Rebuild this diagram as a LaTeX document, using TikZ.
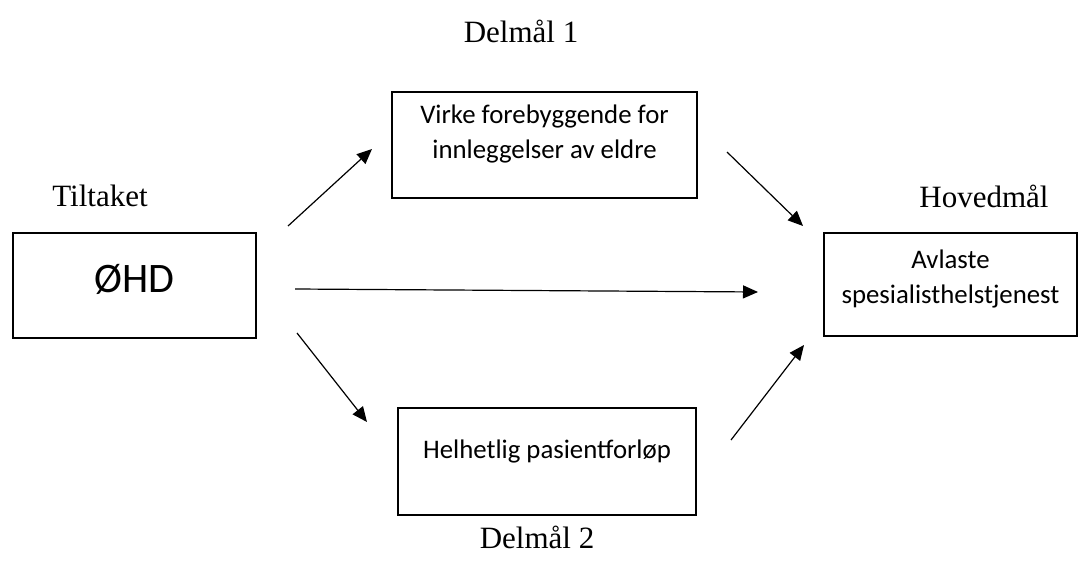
\documentclass[tikz,border=0pt]{standalone}
\usepackage{fontspec}
\setmainfont{Liberation Serif}
\newfontfamily\boxfont{Carlito}
\usetikzlibrary{arrows.meta, calc, positioning}

\begin{document}
\begin{tikzpicture}[x=0.5pt, y=-0.5pt,
    goal/.style={draw, line width=0.9pt, inner sep=0pt, align=center, font=\boxfont\fontsize{13.4}{17.5}\selectfont},
    caption/.style={font=\fontsize{15.5}{18}\selectfont},
    link/.style={line width=0.6pt, -{Triangle[length=7.5pt, width=6.5pt]}}]

    \useasboundingbox (0,0) rectangle (1080,561);

    % Tiltaket
    \node (ohd) [goal, minimum width=121.5pt, minimum height=52.5pt, text depth=7pt, font=\boxfont\fontsize{21}{24}\selectfont] at (134.5,285.5) {ØHD};
    \node (ohdlabel) [caption] at ($(ohd.north) + (-34.5,-36)$) {Tiltaket};

    % Delmål
    \node (sub1) [goal, minimum width=152.5pt, minimum height=53pt, text depth=13.3pt] at (544.5,145) {Virke forebyggende for\\innleggelser av eldre};
    \node (sub1label) [caption] at ($(sub1.north) + (-23.5,-60)$) {Delmål 1};

    \node (sub2) [goal, minimum width=149pt, minimum height=53.5pt, text depth=12.8pt] at (547,461.5) {Helhetlig pasientforløp};
    \node (sub2label) [caption] at ($(sub2.south) + (-10,22)$) {Delmål 2};

    % Hovedmål
    \node (main) [goal, minimum width=126.5pt, minimum height=51.5pt, text depth=7.8pt] at (950.5,284.5) {Avlaste\\spesialisthelstjenest};
    \node (mainlabel) [caption] at ($(main.north) + (33.5,-36)$) {Hovedmål};

    % Arrows
    \coordinate (ohd-sub1) at (288,226);
    \coordinate (sub1-in) at (372,149);
    \coordinate (sub1-out) at (727,152);
    \coordinate (main-top) at (803,226);
    \coordinate (ohd-main) at (295,289);
    \coordinate (main-mid) at (758,292);
    \coordinate (ohd-sub2) at (297,333);
    \coordinate (sub2-in) at (367,422);
    \coordinate (sub2-out) at (731,440);
    \coordinate (main-bot) at (804,345);

    \draw[link] (ohd-sub1) -- (sub1-in);
    \draw[link] (sub1-out) -- (main-top);
    \draw[link] (ohd-main) -- (main-mid);
    \draw[link] (ohd-sub2) -- (sub2-in);
    \draw[link] (sub2-out) -- (main-bot);

\end{tikzpicture}
\end{document}
